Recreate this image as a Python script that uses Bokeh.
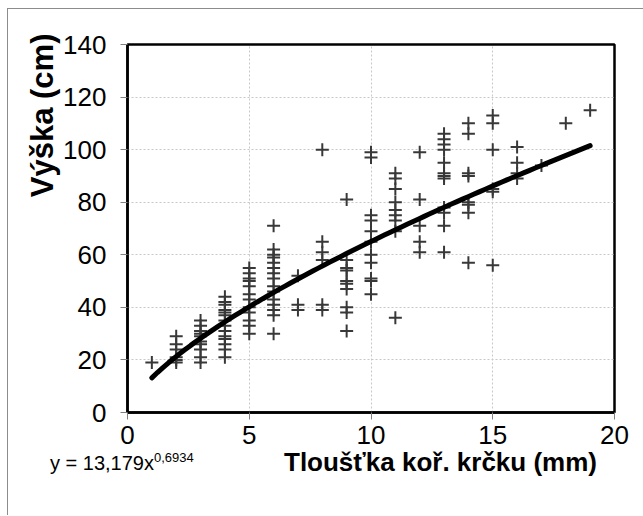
import numpy as np
from bokeh.plotting import figure
from bokeh.models import Range1d, FixedTicker, Title, Div
from bokeh.layouts import column
from bokeh.embed import file_html
from bokeh.resources import INLINE

# Measured heights (cm) grouped by root-collar thickness (mm)
thickness = [1, 2, 3, 4, 5, 6, 7, 8, 9, 10, 11, 12, 13, 14, 15, 16, 17, 18, 19]
h_1 = [19]
h_2 = [29, 26, 24, 21, 20, 19]
h_3 = [35, 33, 31, 30, 29, 27, 26, 24, 21, 19]
h_4 = [44, 42, 41, 39, 38, 37, 35, 33, 31, 29, 28, 26, 24, 21]
h_5 = [55, 53, 51, 50, 48, 45, 43, 40, 38, 35, 33, 30]
h_6 = [71, 62, 60, 59, 57, 55, 53, 51, 48, 46, 43, 41, 39, 37, 30]
h_7 = [52, 41, 39]
h_8 = [100, 65, 61, 58, 41, 39]
h_9 = [81, 58, 55, 54, 50, 49, 47, 40, 38, 31]
h_10 = [99, 97, 75, 73, 69, 65, 60, 57, 51, 50, 45]
h_11 = [91, 89, 85, 80, 77, 75, 73, 69, 36]
h_12 = [99, 81, 71, 65, 61]
h_13 = [106, 104, 102, 100, 95, 91, 90, 89, 78, 76, 71, 61]
h_14 = [110, 106, 91, 90, 80, 79, 76, 57]
h_15 = [113, 110, 100, 85, 84, 56]
h_16 = [101, 95, 91, 89]
h_17 = [94]
h_18 = [110]
h_19 = [115]
heights = [h_1, h_2, h_3, h_4, h_5, h_6, h_7, h_8, h_9, h_10, h_11, h_12,
           h_13, h_14, h_15, h_16, h_17, h_18, h_19]

# Power trendline shown in the chart: y = 13,179 x^0,6934
coef_a = 13.179
coef_b = 0.6934
trend_x_min = 1
trend_x_max = 19

x_ticks = [0, 5, 10, 15, 20]
y_ticks = [0, 20, 40, 60, 80, 100, 120, 140]

y_title = "Výška (cm)"
x_title = "Tloušťka koř. krčku (mm)"
eq_main = "y = 13,179x"
eq_sup = "0,6934"

xs, ys = [], []
for t, hs in zip(thickness, heights):
    for h in hs:
        xs.append(t)
        ys.append(h)

FONT = "Liberation Sans"

p = figure(width=636, height=507, output_backend="svg", toolbar_location=None,
           x_range=Range1d(0, 20), y_range=Range1d(0, 140),
           min_border_left=119, min_border_right=30, min_border_top=35,
           min_border_bottom=104)
p.styles = {"margin-left": "7px", "margin-top": "8px",
            "border-left": "1.5px solid #8c8c8c", "border-top": "1.5px solid #8c8c8c"}
p.background_fill_color = "white"
p.border_fill_color = "white"
p.outline_line_color = "black"
p.outline_line_width = 2.5

p.xaxis.ticker = FixedTicker(ticks=x_ticks)
p.yaxis.ticker = FixedTicker(ticks=y_ticks)
for ax in (p.xaxis[0], p.yaxis[0]):
    ax.axis_line_color = "black"
    ax.axis_line_width = 2.5
    ax.major_tick_line_color = "#808080"
    ax.major_tick_line_width = 1
    ax.major_tick_out = 7
    ax.major_tick_in = 0
    ax.minor_tick_line_color = None
    ax.major_label_text_font = FONT
    ax.major_label_text_font_size = "26px"
    ax.major_label_text_color = "black"
p.xaxis.major_label_standoff = 6
p.yaxis.major_label_standoff = 14

p.grid.grid_line_color = "#c8c8c8"
p.grid.grid_line_dash = "2 2"
p.grid.grid_line_width = 1

p.scatter(xs, ys, marker="cross", size=13, line_color="#383838", line_width=2)

tx = np.linspace(trend_x_min, trend_x_max, 80)
ty = coef_a * tx ** coef_b
p.line(tx, ty, line_color="black", line_width=5, line_cap="round")

p.add_layout(Title(text=y_title, align="right", offset=-11, standoff=1,
                   text_font=FONT, text_font_style="bold", text_font_size="31px",
                   text_color="black"), "left")

bottom_html = (
    f'<div style="position:relative;width:636px;height:50px;font-family:\'{FONT}\';color:black;">'
    f'<span style="position:absolute;left:43px;top:13px;font-size:20px;line-height:23px;white-space:nowrap;">'
    f'{eq_main}<sup style="font-size:13px;line-height:0;">{eq_sup}</sup></span>'
    f'<span style="position:absolute;left:277px;top:8px;font-size:26px;line-height:30px;'
    f'font-weight:bold;white-space:nowrap;">{x_title}</span>'
    '</div>'
)
bottom = Div(text=bottom_html, width=636, height=50,
             styles={"margin-top": "-76px", "margin-left": "7px"})

layout = column(p, bottom)
open("out.html", "w").write(file_html(layout, INLINE))
